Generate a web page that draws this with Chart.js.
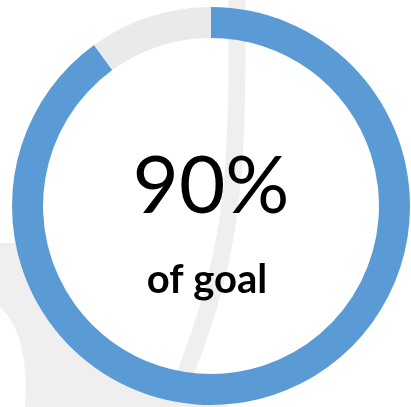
<!DOCTYPE html>
<html>
<head>
<meta charset="utf-8">
<script src="https://cdn.jsdelivr.net/npm/chart.js@4.4.0/dist/chart.umd.min.js"></script>
<style>
  html, body { margin: 0; padding: 0; background: #ffffff; }
  #wrap { width: 411px; height: 407px; }
</style>
</head>
<body>
<div id="wrap"><canvas id="goalChart"></canvas></div>
<script>
// data
var labels = ['Achieved', 'Remaining'];
var values = [90, 10];
var sliceColors = ['#5b9bd5', '#e9eaec'];
var caption = 'of goal';

// faint watermark behind the ring
var watermark = {
  id: 'watermark',
  beforeDraw: function (chart) {
    var c = chart.ctx;
    var meta = chart.getDatasetMeta(0).data[0];
    c.save();
    c.fillStyle = '#efefef';
    // bottom-left shape, only outside the ring
    c.beginPath();
    c.rect(0, 0, chart.width, chart.height);
    c.arc(meta.x, meta.y, meta.outerRadius - 12, 0, Math.PI * 2, true);
    c.clip();
    c.beginPath();
    c.moveTo(0, 243);
    c.lineTo(60, 243);
    c.lineTo(230, 407);
    c.lineTo(25, 407);
    c.quadraticCurveTo(30, 335, 0, 307);
    c.closePath();
    c.fill();
    c.restore();

    c.save();
    c.strokeStyle = '#efefef';
    c.lineWidth = 17;
    c.beginPath();
    c.moveTo(237, -2);
    c.bezierCurveTo(238, 200, 232, 260, 172, 407);
    c.stroke();
    c.restore();
  }
};

// text in the middle
var centerText = {
  id: 'centerText',
  afterDraw: function (chart) {
    var c = chart.ctx;
    c.save();
    c.fillStyle = '#000000';
    c.textAlign = 'center';
    c.textBaseline = 'alphabetic';
    c.font = '80px Lato';
    c.fillText(values[0] + '%', 211, 213);
    c.font = 'bold 40px Lato';
    c.fillText(caption, 207, 293);
    c.restore();
  }
};

var ctx = document.getElementById('goalChart').getContext('2d');
var goalChart = new Chart(ctx, {
  type: 'doughnut',
  data: {
    labels: labels,
    datasets: [
      {
        data: values,
        backgroundColor: sliceColors,
        borderWidth: 0,
        hoverOffset: 0,
      },
    ],
  },
  options: {
    responsive: true,
    maintainAspectRatio: false,
    animation: false,
    cutout: '84.4%',
    layout: {
      padding: { left: 12, right: 1, top: 7, bottom: 2 },
    },
    events: [],
    plugins: {
      legend: { display: false },
      tooltip: { enabled: false },
    },
  },
  plugins: [watermark, centerText],
});
</script>
</body>
</html>
